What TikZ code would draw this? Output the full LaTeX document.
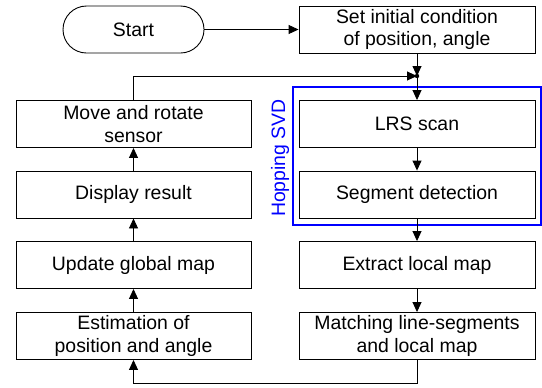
\documentclass[tikz,border=0pt]{standalone}
\usepackage{fontspec}
\setmainfont{Liberation Sans}
\usetikzlibrary{arrows.meta,positioning}
\tikzset{
  box/.style={draw=black,line width=0.9bp,rectangle,minimum width=236bp,minimum height=47bp,align=center,inner sep=0pt,font=\fontsize{19.5}{22.5}\selectfont},
  startbox/.style={draw=black,line width=0.9bp,rectangle,rounded corners=23.5bp,minimum width=141bp,minimum height=47bp,inner sep=0pt,font=\fontsize{19.5}{22.5}\selectfont},
  conn/.style={draw=black,line width=0.9bp,-{Triangle[length=10bp,width=9bp]}},
  svdframe/.style={draw={rgb,255:red,0;green,0;blue,255},line width=2bp},
}
\definecolor{svdblue}{RGB}{0,0,255}
\begin{document}
\begin{tikzpicture}[x=1bp,y=-1bp]
\useasboundingbox (0,0) rectangle (542,387);
% blue frame
\draw[svdframe] (293,87) rectangle (541,225);
\node[rotate=90,text=svdblue,font=\fontsize{19.5}{22.5}\selectfont,inner sep=0pt] (svd) at (280,158) {Hopping SVD};
% nodes
\node[startbox] (start) at (133.5,29.5) {Start};
\node[box] (init) at (417,29.5) {Set initial condition\\of position, angle};
\node[box,minimum width=235bp] (move) at (133.5,124) {Move and rotate\\sensor};
\node[box] (lrs) at (417,124) {LRS scan};
\node[box,minimum width=235bp] (disp) at (133.5,194.5) {Display result};
\node[box] (seg) at (417,194.5) {Segment detection};
\node[box,minimum width=235bp] (upd) at (133.5,265) {Update global map};
\node[box] (ext) at (417,265) {Extract local map};
\node[box,minimum width=235bp] (est) at (133.5,336) {Estimation of\\position and angle};
\node[box] (match) at (417,336) {Matching line-segments\\and local map};
\coordinate (jn) at (417,76);
\coordinate (loopl) at (133.5,76);
\coordinate (botr) at (417,383);
\coordinate (botl) at (133.5,383);
% connectors
\draw[conn] (start.east) -- (init.west);
\draw[conn] (init.south) -- (jn);
\draw[conn] (move.north) -- (loopl) -- (jn);
\fill (jn) circle (2.2bp);
\draw[conn] (jn) -- (lrs.north);
\draw[conn] (lrs.south) -- (seg.north);
\draw[conn] (seg.south) -- (ext.north);
\draw[conn] (ext.south) -- (match.north);
\draw[conn] (match.south) -- (botr) -- (botl) -- (est.south);
\draw[conn] (est.north) -- (upd.south);
\draw[conn] (upd.north) -- (disp.south);
\draw[conn] (disp.north) -- (move.south);
\end{tikzpicture}
\end{document}
